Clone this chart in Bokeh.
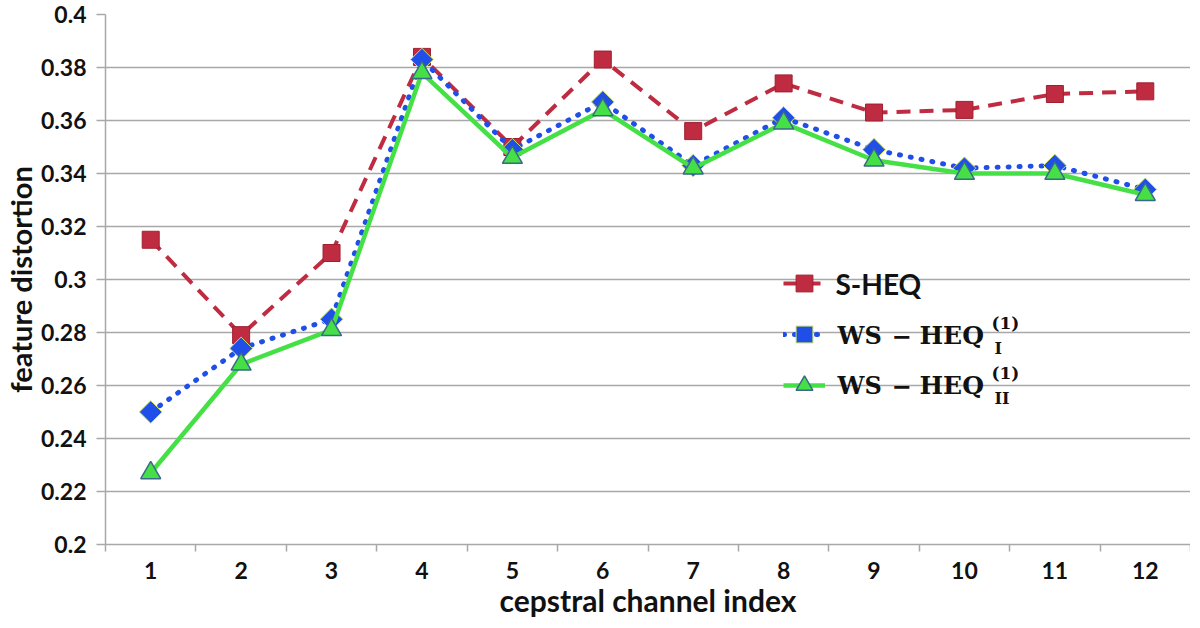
import math
from bokeh.plotting import figure
from bokeh.models import (Range1d, FixedTicker, CustomJSTickFormatter, Legend, LegendItem, Label)
from bokeh.embed import file_html
from bokeh.resources import INLINE

channels = [1, 2, 3, 4, 5, 6, 7, 8, 9, 10, 11, 12]
s_heq = [0.315, 0.279, 0.310, 0.384, 0.350, 0.383, 0.356, 0.374, 0.363, 0.364, 0.370, 0.371]
ws_heq_1 = [0.250, 0.274, 0.285, 0.383, 0.349, 0.367, 0.343, 0.361, 0.349, 0.342, 0.343, 0.334]
ws_heq_2 = [0.227, 0.268, 0.281, 0.378, 0.346, 0.364, 0.342, 0.359, 0.345, 0.340, 0.340, 0.332]
y_ticks = [0.2, 0.22, 0.24, 0.26, 0.28, 0.3, 0.32, 0.34, 0.36, 0.38, 0.4]
x_label = "cepstral channel index"
y_label = "feature distortion"

RED = "#BF2B40"
BLUE = "#1F4FE8"
GREEN = "#45E045"
GRID = "#A8A8A8"
FONT = "Lato"
INK = "#111111"

p = figure(width=1190, height=620, output_backend="svg", toolbar_location=None,
           x_range=Range1d(0.5, 12.5), y_range=Range1d(0.2, 0.4),
           min_border_left=104, min_border_right=0, min_border_top=14, min_border_bottom=74)
p.outline_line_color = None
p.xgrid.grid_line_color = None
p.ygrid.ticker = FixedTicker(ticks=y_ticks)
p.ygrid.grid_line_color = GRID
p.ygrid.grid_line_width = 1.5

p.xaxis.ticker = FixedTicker(ticks=channels, minor_ticks=[c - 0.5 for c in channels] + [12.5])
p.xaxis.major_tick_out = 0
p.xaxis.major_tick_in = 0
p.xaxis.minor_tick_out = 7
p.xaxis.minor_tick_in = 0
p.xaxis.minor_tick_line_color = GRID
p.xaxis.minor_tick_line_width = 1.5
p.xaxis.major_label_standoff = 10

p.yaxis.ticker = FixedTicker(ticks=y_ticks)
p.yaxis.formatter = CustomJSTickFormatter(code="return String(Math.round(tick*100)/100);")
p.yaxis.major_tick_out = 9
p.yaxis.major_tick_in = 0
p.yaxis.minor_tick_out = 0
p.yaxis.major_label_standoff = 10

for ax in (p.xaxis, p.yaxis):
    ax.axis_line_color = GRID
    ax.axis_line_width = 1.5
    ax.major_tick_line_color = GRID
    ax.major_tick_line_width = 1.5
    ax.major_label_text_font = FONT
    ax.major_label_text_font_style = "bold"
    ax.major_label_text_font_size = "23px"
    ax.major_label_text_color = INK
    ax.axis_label_text_font = FONT
    ax.axis_label_text_font_style = "bold"
    ax.axis_label_text_color = INK

p.xaxis.axis_label = x_label
p.yaxis.axis_label = y_label
p.xaxis.axis_label_text_font_size = "30px"
p.yaxis.axis_label_text_font_size = "29px"
p.xaxis.axis_label_standoff = 0
p.yaxis.axis_label_standoff = 0

r1 = p.line(channels, s_heq, line_color=RED, line_width=4, line_dash="14 9")
m1 = p.scatter(channels, s_heq, marker="square", size=17, fill_color=RED, line_color="#A02030", line_width=1)
r2 = p.line(channels, ws_heq_1, line_color=BLUE, line_width=5, line_dash="1 10", line_cap="round")
m2 = p.scatter(channels, ws_heq_1, marker="square", size=16, angle=math.pi / 4,
               fill_color=BLUE, line_color="#C8E060", line_width=1)
r3 = p.line(channels, ws_heq_2, line_color=GREEN, line_width=4.5)
m3 = p.scatter(channels, ws_heq_2, marker="triangle", size=20, fill_color=GREEN, line_color="#3A6A8A", line_width=1.5)

legend = Legend(items=[LegendItem(label=" ", renderers=[r1, m1]),
                       LegendItem(label=" ", renderers=[r2, m2]),
                       LegendItem(label=" ", renderers=[r3, m3])],
                location=(678, 137), orientation="vertical",
                glyph_width=42, glyph_height=44, label_height=44, label_width=1,
                spacing=7, padding=0, margin=0,
                border_line_color=None, background_fill_alpha=0)
p.add_layout(legend)

p.add_layout(Label(x=730, y=261, x_units="screen", y_units="screen", text="S-HEQ",
                   text_font=FONT, text_font_style="bold", text_font_size="28px",
                   text_baseline="middle", text_color=INK))
SERIF = "DejaVu Serif"
for yy, sub in ((209, "I"), (159, "II")):
    p.add_layout(Label(x=732, y=yy, x_units="screen", y_units="screen", text="WS",
                       text_font=SERIF, text_font_style="bold", text_font_size="24px",
                       text_baseline="middle", text_color=INK))
    p.add_layout(Label(x=786, y=yy, x_units="screen", y_units="screen", text="−",
                       text_font=SERIF, text_font_style="bold", text_font_size="24px",
                       text_baseline="middle", text_color=INK))
    p.add_layout(Label(x=814, y=yy, x_units="screen", y_units="screen", text="HEQ",
                       text_font=SERIF, text_font_style="bold", text_font_size="25px",
                       text_baseline="middle", text_color=INK))
    p.add_layout(Label(x=886, y=yy + 13, x_units="screen", y_units="screen", text="(1)",
                       text_font=SERIF, text_font_style="bold", text_font_size="17px",
                       text_baseline="middle", text_color=INK))
    p.add_layout(Label(x=889, y=yy - 13, x_units="screen", y_units="screen", text=sub,
                       text_font=SERIF, text_font_style="bold", text_font_size="16px",
                       text_baseline="middle", text_color=INK))

open("out.html", "w").write(file_html(p, INLINE))
